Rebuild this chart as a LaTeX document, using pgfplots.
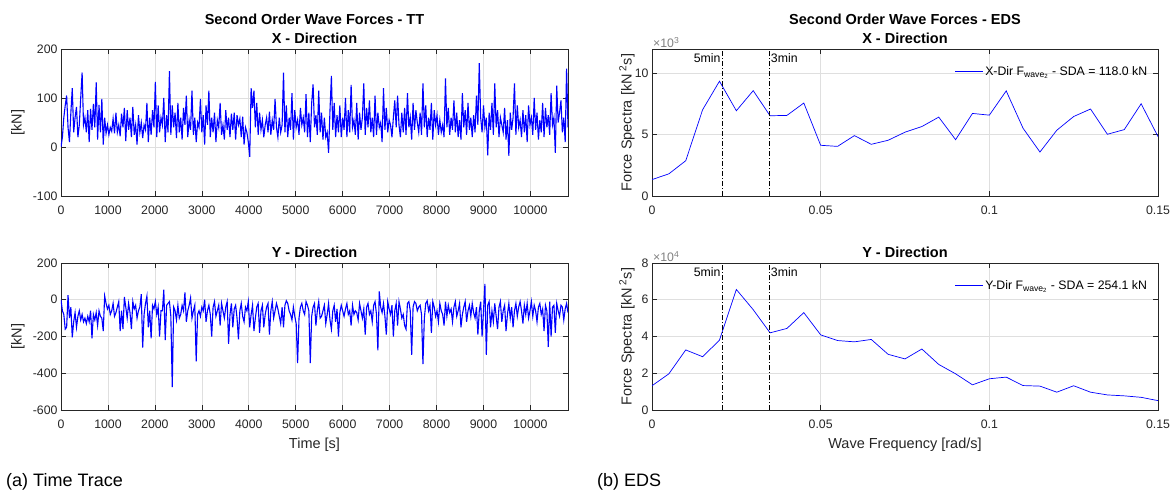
\documentclass[border=0pt]{standalone}
\usepackage{pgfplots}
\pgfplotsset{compat=1.18}
\usepackage{pgfplotstable}
\usepackage{fontspec}
\setmainfont{Liberation Sans}
\definecolor{axgray}{RGB}{38,38,38}
\definecolor{gridgray}{RGB}{223,223,223}
\definecolor{mblue}{RGB}{0,0,255}

% X-direction time trace, one value every 30 s (0 ... 10800 s)
\pgfplotstableread[row sep=\\, header=false]{
0\\20\\60\\85\\105\\40\\10\\70\\120\\30\\60\\82\\20\\45\\100\\152\\45\\60\\30\\75\\
10\\78\\35\\88\\40\\132\\15\\86\\30\\98\\5\\60\\28\\45\\25\\40\\32\\58\\28\\70\\
30\\45\\22\\68\\40\\80\\12\\75\\35\\60\\20\\82\\25\\45\\5\\65\\30\\50\\18\\45\\
35\\90\\10\\60\\25\\75\\40\\133\\20\\85\\30\\60\\45\\100\\10\\65\\30\\155\\25\\85\\
40\\70\\18\\90\\30\\60\\15\\80\\45\\105\\20\\55\\35\\115\\25\\60\\10\\50\\40\\98\\
30\\65\\5\\85\\45\\115\\20\\60\\30\\70\\10\\55\\40\\90\\25\\45\\15\\75\\35\\60\\
20\\68\\35\\70\\15\\65\\45\\58\\20\\62\\5\\40\\30\\10\\-20\\120\\80\\115\\40\\90\\
25\\70\\35\\55\\20\\45\\60\\30\\72\\25\\55\\35\\98\\40\\20\\60\\30\\45\\152\\30\\
85\\20\\60\\35\\110\\15\\75\\40\\55\\25\\80\\45\\60\\30\\108\\20\\70\\10\\90\\128\\
40\\65\\25\\115\\30\\70\\15\\60\\20\\30\\-12\\75\\145\\35\\90\\20\\65\\30\\85\\20\\
60\\35\\100\\20\\75\\30\\127\\40\\55\\25\\90\\15\\70\\35\\60\\130\\25\\80\\40\\95\\
30\\60\\20\\105\\25\\70\\40\\50\\10\\120\\35\\80\\30\\55\\45\\20\\60\\95\\40\\105\\
45\\20\\70\\30\\80\\25\\110\\40\\60\\15\\90\\35\\75\\50\\30\\70\\25\\130\\40\\85\\
20\\60\\35\\90\\15\\75\\45\\65\\25\\55\\30\\45\\20\\140\\40\\80\\25\\60\\35\\95\\
30\\70\\20\\55\\15\\110\\40\\75\\25\\90\\35\\60\\20\\65\\30\\105\\45\\171\\60\\30\\
85\\40\\60\\-17\\70\\35\\90\\25\\130\\40\\75\\20\\60\\45\\30\\80\\15\\55\\-18\\70\\
35\\60\\130\\25\\85\\40\\55\\20\\75\\30\\65\\10\\85\\45\\60\\25\\100\\35\\70\\15\\
55\\30\\90\\20\\80\\40\\65\\25\\110\\45\\60\\-12\\125\\50\\70\\95\\30\\60\\10\\160\\
40\\
}\xtrace

% Y-direction time trace, one value every 30 s
\pgfplotstableread[row sep=\\, header=false]{
0\\-60\\-80\\-160\\-150\\25\\-100\\-40\\-205\\-120\\-70\\-150\\-90\\-60\\-110\\-80\\-120\\-100\\-130\\-90\\
-120\\-60\\-210\\-80\\-110\\-70\\-140\\-60\\-90\\-100\\-170\\20\\-20\\-50\\-30\\-80\\-60\\-20\\-90\\-70\\
-40\\-10\\-170\\-60\\-160\\15\\-40\\-100\\-20\\-70\\-160\\-10\\-50\\-30\\-100\\-60\\-40\\30\\-260\\-80\\
-20\\20\\-150\\-60\\-210\\-30\\-50\\-10\\-80\\-40\\-200\\-60\\-60\\55\\-220\\-30\\-20\\-10\\-90\\-475\\
-40\\-60\\-110\\-30\\-100\\-80\\-30\\-60\\40\\-120\\-60\\-30\\10\\-100\\-60\\-30\\-335\\-80\\-60\\-90\\
-40\\-60\\0\\-120\\-60\\-30\\-80\\-200\\-40\\-10\\-90\\-60\\-30\\-140\\-20\\-60\\-100\\-40\\-10\\-240\\
-80\\-20\\-150\\-50\\-30\\-100\\-215\\-60\\-20\\-90\\-120\\-40\\-60\\-10\\-150\\-80\\-30\\-170\\-100\\-40\\
-20\\-180\\-60\\-30\\-150\\-80\\-40\\-20\\-190\\-60\\-10\\-100\\-60\\-20\\-50\\-90\\-130\\-40\\-150\\-30\\
-5\\-20\\-60\\-80\\-110\\-40\\-90\\-130\\-345\\-100\\-40\\-20\\-60\\-80\\-10\\-30\\-60\\-345\\-90\\-40\\
-20\\-140\\-60\\-10\\-100\\-90\\-60\\-30\\-130\\-80\\-20\\-110\\-160\\-60\\-30\\-120\\-50\\-200\\-70\\-30\\
-60\\-90\\-50\\-20\\-80\\-60\\-140\\-30\\-80\\-60\\-70\\-110\\-20\\-60\\-100\\-50\\-190\\-40\\-20\\-80\\
-60\\-120\\-30\\-10\\-80\\-275\\45\\-40\\-70\\-20\\-90\\-190\\-10\\-50\\-80\\-30\\-200\\-60\\-20\\-140\\
-10\\-50\\-100\\-80\\-140\\-160\\-20\\-10\\-60\\-300\\-40\\-10\\-20\\-60\\-40\\-30\\-80\\-350\\-100\\-20\\
-5\\-60\\-30\\-180\\-10\\-40\\-90\\-60\\-120\\-20\\-60\\-80\\-140\\-10\\-90\\-30\\-70\\-50\\-120\\-40\\
-10\\-90\\-60\\-20\\-150\\-80\\-40\\-10\\-120\\-60\\-30\\-90\\-20\\-70\\-100\\-40\\-190\\-60\\-10\\-200\\
-60\\86\\-300\\-30\\-10\\-150\\-60\\-120\\-20\\-90\\-160\\-40\\-10\\-120\\-60\\-30\\-170\\-80\\-20\\-100\\
-40\\-150\\-60\\-20\\-90\\-40\\-10\\-60\\-130\\-30\\-80\\-20\\-100\\-60\\-10\\-90\\-30\\-60\\-120\\-40\\
-20\\-80\\-50\\-170\\-30\\-60\\-257\\-10\\-200\\-40\\-30\\-180\\-20\\-60\\-90\\-30\\-40\\-110\\-50\\-20\\
-70\\
}\ytrace

% Spectra (X in units of 1e3, Y in units of 1e4)
\pgfplotstableread{
f s
0 1.34
0.005 1.81
0.01 2.88
0.015 7.04
0.02 9.37
0.025 6.96
0.03 8.60
0.035 6.55
0.04 6.58
0.045 7.59
0.05 4.14
0.055 4.05
0.06 4.93
0.065 4.22
0.07 4.55
0.075 5.21
0.08 5.67
0.085 6.44
0.09 4.60
0.095 6.74
0.1 6.60
0.105 8.58
0.11 5.53
0.115 3.59
0.12 5.37
0.125 6.49
0.13 7.10
0.135 5.04
0.14 5.42
0.145 7.53
0.15 4.85
}\xspec

\pgfplotstableread{
f s
0 1.32
0.005 1.97
0.01 3.27
0.015 2.90
0.02 3.80
0.025 6.56
0.03 5.46
0.035 4.20
0.04 4.44
0.045 5.30
0.05 4.09
0.055 3.78
0.06 3.71
0.065 3.84
0.07 3.03
0.075 2.78
0.08 3.32
0.085 2.48
0.09 1.97
0.095 1.37
0.1 1.70
0.105 1.79
0.11 1.33
0.115 1.30
0.12 0.97
0.125 1.32
0.13 0.97
0.135 0.82
0.14 0.77
0.145 0.69
0.15 0.51
}\yspec

\newcommand{\legline}{\textcolor{mblue}{\rule[0.3em]{28pt}{0.8pt}}\hspace{2pt}}

\pgfplotsset{
  mstyle/.style={
    scale only axis,
    scaled x ticks=false, scaled y ticks=false,
    axis line style={axgray, line width=0.6pt},
    tick style={axgray, line width=0.6pt},
    major tick length=5pt,
    tick align=inside,
    tick pos=both,
    grid=major,
    major grid style={gridgray, line width=0.6pt},
    tick label style={font=\fontsize{12.3}{14}\selectfont, text=axgray},
    xticklabel style={yshift=-6pt},
  },
  tstyle/.style={mstyle, width=507pt, height=147pt, xmin=0, xmax=10800,
    xtick={0,1000,...,10000},
    xticklabels={0,1000,2000,3000,4000,5000,6000,7000,8000,9000,10000}},
  sstyle/.style={mstyle, width=506pt, height=147pt, xmin=0, xmax=0.15,
    clip mode=individual,
    xtick={0,0.05,0.1,0.15}, xticklabels={0,0.05,0.1,0.15},
    legend image code/.code={},
    legend style={draw=none, fill=none, anchor=west, inner sep=0pt,
      font=\fontsize{12.3}{14}\selectfont,
      /tikz/every even column/.style={column sep=0pt}},
  },
}
\tikzset{dd/.style={black, line width=0.7pt, dash pattern=on 5pt off 2pt on 1pt off 2pt}}

\begin{document}
\begin{tikzpicture}
\useasboundingbox (0,0) rectangle (1173pt,-490pt);

% ---- (a) top
\begin{axis}[tstyle, at={(61pt,-196pt)}, anchor=south west,
  ymin=-100, ymax=200, ytick={-100,0,100,200}, yticklabels={-100,0,100,200}]
\addplot[mblue, line width=1.1pt] table[x expr=\coordindex*30, y index=0] {\xtrace};
\end{axis}
% ---- (a) bottom
\begin{axis}[tstyle, at={(61pt,-410pt)}, anchor=south west,
  ymin=-600, ymax=200, ytick={-600,-400,-200,0,200}, yticklabels={-600,-400,-200,0,200}]
\addplot[mblue, line width=1.1pt] table[x expr=\coordindex*30, y index=0] {\ytrace};
\end{axis}

% ---- (b) top
\begin{axis}[sstyle, at={(652pt,-196pt)}, anchor=south west,
  ymin=0, ymax=12, ytick={0,5,10}, yticklabels={0,5,10},
  legend style={at={(rel axis cs:0.595,0.846)}}]
\addplot[color=mblue, line width=0.7pt] table[x=f, y=s] {\xspec};
\addlegendentry{\legline X-Dir F\textsubscript{wave\textsubscript{2}} - SDA = 118.0 kN}
\addplot[dd, forget plot] coordinates {(0.020944,0) (0.020944,12)};
\addplot[dd, forget plot] coordinates {(0.034907,0) (0.034907,12)};
\node[anchor=east, inner sep=2pt, font=\fontsize{12.3}{14}\selectfont] at (axis cs:0.020944,11.25) {5min};
\node[anchor=west, inner sep=1pt, font=\fontsize{12.3}{14}\selectfont] at (axis cs:0.034907,11.25) {3min};
\node[anchor=south west, inner sep=1pt, text=gray, font=\fontsize{12.3}{14}\selectfont] at (rel axis cs:0,1) {×10\textsuperscript{3}};
\end{axis}
% ---- (b) bottom
\begin{axis}[sstyle, at={(652pt,-410pt)}, anchor=south west,
  ymin=0, ymax=8, ytick={0,2,4,6,8}, yticklabels={0,2,4,6,8},
  legend style={at={(rel axis cs:0.595,0.846)}}]
\addplot[color=mblue, line width=0.7pt] table[x=f, y=s] {\yspec};
\addlegendentry{\legline Y-Dir F\textsubscript{wave\textsubscript{2}} - SDA = 254.1 kN}
\addplot[dd, forget plot] coordinates {(0.020944,0) (0.020944,8)};
\addplot[dd, forget plot] coordinates {(0.034907,0) (0.034907,8)};
\node[anchor=east, inner sep=2pt, font=\fontsize{12.3}{14}\selectfont] at (axis cs:0.020944,7.5) {5min};
\node[anchor=west, inner sep=1pt, font=\fontsize{12.3}{14}\selectfont] at (axis cs:0.034907,7.5) {3min};
\node[anchor=south west, inner sep=1pt, text=gray, font=\fontsize{12.3}{14}\selectfont] at (rel axis cs:0,1) {×10\textsuperscript{4}};
\end{axis}

% ---- titles and labels
\begin{scope}[every node/.style={font=\fontsize{14.5}{17}\selectfont\bfseries, anchor=base}]
\node at (314.5pt,-24pt) {Second Order Wave Forces - TT};
\node at (314.5pt,-43pt) {X - Direction};
\node at (314.5pt,-257pt) {Y - Direction};
\node at (905pt,-24pt) {Second Order Wave Forces - EDS};
\node at (905pt,-43pt) {X - Direction};
\node at (905pt,-257pt) {Y - Direction};
\end{scope}
\begin{scope}[every node/.style={font=\fontsize{14.5}{17}\selectfont, text=axgray}]
\node[rotate=90] at (18pt,-122.5pt) {[kN]};
\node[rotate=90] at (18pt,-336.5pt) {[kN]};
\node[rotate=90] at (627pt,-122.5pt) {Force Spectra [kN\textsuperscript{ 2}s]};
\node[rotate=90] at (627pt,-336.5pt) {Force Spectra [kN\textsuperscript{ 2}s]};
\node[anchor=base] at (314.5pt,-448pt) {Time [s]};
\node[anchor=base] at (905pt,-448pt) {Wave Frequency [rad/s]};
\end{scope}
\node[anchor=base west, inner sep=0pt, font=\fontsize{18}{21}\selectfont] at (6pt,-486pt) {(a) Time Trace};
\node[anchor=base west, inner sep=0pt, font=\fontsize{18}{21}\selectfont] at (597pt,-486pt) {(b) EDS};
\end{tikzpicture}
\end{document}
